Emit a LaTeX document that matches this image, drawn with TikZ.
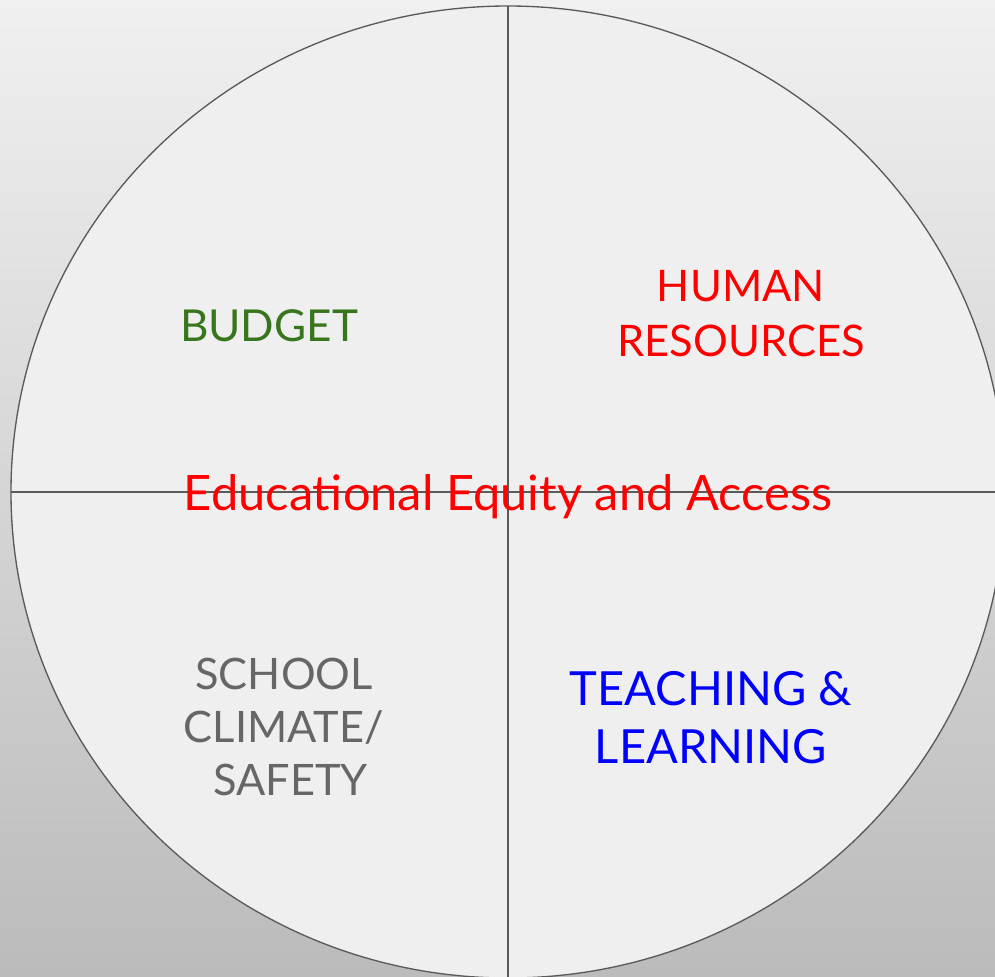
\documentclass[tikz,border=0pt]{standalone}
\usepackage{fontspec}
\setmainfont{Lato}
\definecolor{bgtop}{RGB}{240,240,240}
\definecolor{bgbottom}{RGB}{187,187,187}
\definecolor{discfill}{RGB}{239,239,239}
\definecolor{rimgray}{RGB}{90,90,90}
\definecolor{budgetgreen}{RGB}{56,118,29}
\definecolor{climategray}{RGB}{102,102,102}
\tikzset{
  quadlabel/.style={inner sep=0pt, align=center},
}
\begin{document}
\begin{tikzpicture}[x=0.75pt,y=0.75pt,yscale=-1,xscale=1]
        \useasboundingbox (0,0) rectangle (995,976);
        \clip (0,0) rectangle (995,976);
        %Shape: Background
        \shade [top color=bgtop, bottom color=bgbottom] (0,0) rectangle (995,976);
        \coordinate (c) at (508,492);
        %Shape: Ellipse
        \draw [rimgray, line width=1pt, fill=discfill] (c) ellipse [x radius=497, y radius=486];
        %Straight Lines
        \coordinate (top) at (508,6);
        \coordinate (bottom) at (508,978);
        \coordinate (left) at (11,492);
        \coordinate (right) at (1005,492);
        \draw [rimgray, line width=1pt] (top) -- (bottom);
        \draw [rimgray, line width=1pt] (left) -- (right);

        % Text Node
        \node [quadlabel, text=budgetgreen, font=\fontsize{33}{40}\selectfont] (budget) at (269,326) {BUDGET};
        % Text Node
        \node [quadlabel, text=red, font=\fontsize{32.6}{41.25}\selectfont] (hr) at (741,314) {HUMAN\\RESOURCES};
        % Text Node
        \node [quadlabel, text=climategray, font=\fontsize{32.5}{39.75}\selectfont] (climate) at (284,726.5) {SCHOOL\\CLIMATE/\\\hspace{0.3em}SAFETY};
        % Text Node
        \node [quadlabel, text=blue, font=\fontsize{35.3}{43.5}\selectfont] (teaching) at (711,718) {TEACHING \&\\LEARNING};
        % Text Node
        \node [quadlabel, text=red, font=\fontsize{36.6}{45}\selectfont, anchor=base] (equity) at (508,510) {Educational Equity and Access};
\end{tikzpicture}
\end{document}
